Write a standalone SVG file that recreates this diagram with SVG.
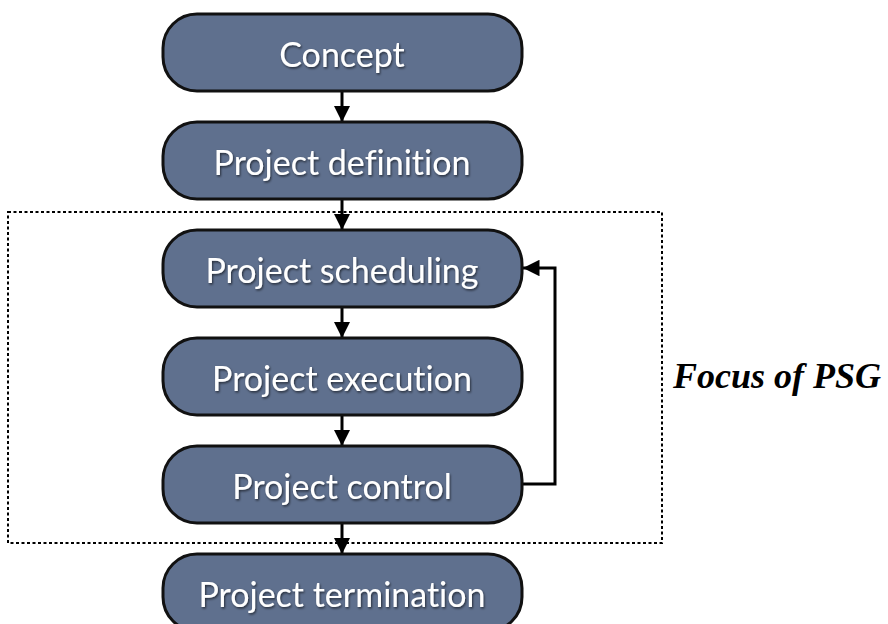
<svg xmlns="http://www.w3.org/2000/svg" width="888" height="624" viewBox="0 0 888 624">
<defs>
<style>
.node rect{fill:#5f708e;stroke:#111;stroke-width:3}
.node text{fill:#fff;font-family:Lato,"Open Sans","DejaVu Sans",sans-serif;font-size:34px;text-anchor:middle;font-variant-ligatures:none}
.conn{stroke:#000;stroke-width:3;fill:none}
.focus{font-family:"Liberation Serif","Times New Roman",serif;font-weight:bold;font-style:italic;font-size:36px;fill:#000}
</style>
<marker id="ah" viewBox="0 0 10 10" refX="10" refY="5" markerWidth="5.5" markerHeight="5.5" orient="auto" markerUnits="strokeWidth">
<path d="M0,0 L10,5 L0,10 z" fill="#000"/>
</marker>
<filter id="ts" x="-10%" y="-10%" width="120%" height="130%">
<feDropShadow dx="1" dy="1.5" stdDeviation="0.8" flood-color="#000" flood-opacity="0.6"/>
</filter>
</defs>
<rect width="888" height="624" fill="#fff"/>
<rect x="8" y="212" width="654" height="331" fill="none" stroke="#000" stroke-width="2" stroke-dasharray="3,2.5"/>
<g id="connectors">
<line class="conn" x1="342" y1="91" x2="342" y2="122" marker-end="url(#ah)"/>
<line class="conn" x1="342" y1="199" x2="342" y2="230" marker-end="url(#ah)"/>
<line class="conn" x1="342" y1="307" x2="342" y2="338" marker-end="url(#ah)"/>
<line class="conn" x1="342" y1="415" x2="342" y2="446" marker-end="url(#ah)"/>
<line class="conn" x1="342" y1="523" x2="342" y2="554" marker-end="url(#ah)"/>
<polyline class="conn" points="522,484 555,484 555,268 523,268" marker-end="url(#ah)"/>
</g>
<g id="concept" class="node"><rect x="163" y="14" width="359" height="77" rx="34"/><text x="342" y="67" filter="url(#ts)">Concept</text></g>
<g id="definition" class="node"><rect x="163" y="122" width="359" height="77" rx="34"/><text x="342" y="175" filter="url(#ts)">Project definition</text></g>
<g id="scheduling" class="node"><rect x="163" y="230" width="359" height="77" rx="34"/><text x="342" y="283" filter="url(#ts)">Project scheduling</text></g>
<g id="execution" class="node"><rect x="163" y="338" width="359" height="77" rx="34"/><text x="342" y="391" filter="url(#ts)">Project execution</text></g>
<g id="control" class="node"><rect x="163" y="446" width="359" height="77" rx="34"/><text x="342" y="499" filter="url(#ts)">Project control</text></g>
<g id="termination" class="node"><rect x="163" y="554" width="359" height="77" rx="34"/><text x="342" y="607" filter="url(#ts)">Project termination</text></g>
<text class="focus" x="673" y="388">Focus of PSG</text>
</svg>
